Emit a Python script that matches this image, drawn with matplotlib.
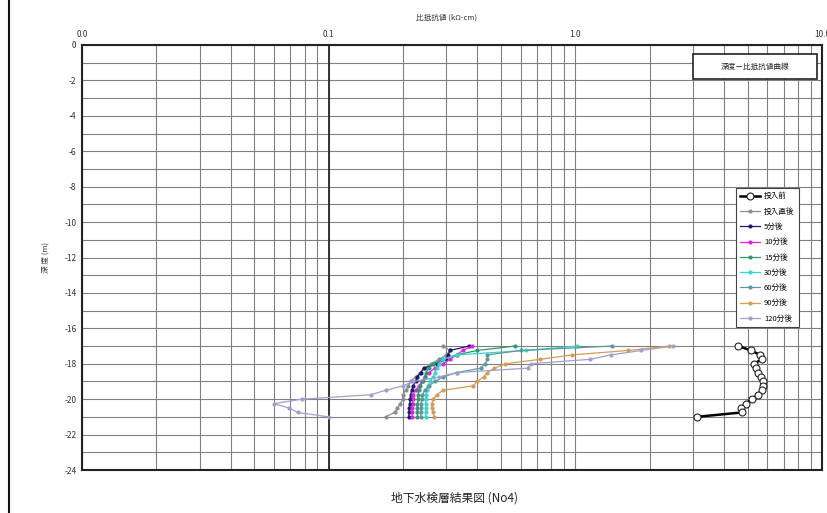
import matplotlib
matplotlib.use('Agg')
import matplotlib.pyplot as plt
from matplotlib.ticker import LogLocator, MultipleLocator, NullFormatter
from matplotlib.lines import Line2D
from matplotlib.patches import Rectangle

plt.rcParams['font.family'] = ['Noto Sans CJK JP', 'DejaVu Sans']

# depths (m), 0.25 m steps
depth = [-17.0, -17.25, -17.5, -17.75, -18.0, -18.25, -18.5, -18.75, -19.0,
         -19.25, -19.5, -19.75, -20.0, -20.25, -20.5, -20.75, -21.0]

# resistivity (kOhm-cm) per series
before = [4.56, 5.16, 5.6, 5.7, 5.3, 5.4, 5.5, 5.64, 5.74,
          5.75, 5.7, 5.5, 5.2, 4.9, 4.7, 4.73, 3.1]
just_after = [0.29, 0.31, 0.30, 0.28, 0.26, 0.245, 0.235, 0.225, 0.215,
              0.21, 0.205, 0.20, 0.20, 0.195, 0.19, 0.185, 0.17]
min5 = [0.37, 0.31, 0.305, 0.298, 0.275, 0.243, 0.236, 0.229, 0.225,
        0.22, 0.217, 0.215, 0.214, 0.213, 0.212, 0.212, 0.211]
min10 = [0.38, 0.35, 0.33, 0.31, 0.29, 0.27, 0.255, 0.245, 0.238,
         0.233, 0.225, 0.22, 0.219, 0.219, 0.218, 0.218, 0.218]
min15 = [0.57, 0.40, 0.33, 0.29, 0.265, 0.254, 0.248, 0.245, 0.242,
         0.235, 0.232, 0.23, 0.23, 0.229, 0.229, 0.229, 0.229]
min30 = [1.02, 0.63, 0.33, 0.29, 0.28, 0.275, 0.27, 0.265, 0.258,
         0.252, 0.25, 0.249, 0.248, 0.248, 0.247, 0.247, 0.247]
min60 = [1.41, 0.60, 0.44, 0.44, 0.43, 0.414, 0.33, 0.29, 0.27,
         0.255, 0.245, 0.24, 0.238, 0.237, 0.236, 0.236, 0.236]
min90 = [2.4, 1.64, 0.97, 0.72, 0.52, 0.47, 0.44, 0.425, 0.40,
         0.385, 0.29, 0.275, 0.265, 0.262, 0.263, 0.265, 0.268]
min120 = [2.5, 1.85, 1.39, 1.15, 0.66, 0.64, 0.33, 0.28, 0.22,
          0.20, 0.17, 0.148, 0.078, 0.060, 0.069, 0.075, 0.10]

labels = ['投入前', '投入直後', '5分後', '10分後', '15分後', '30分後', '60分後', '90分後', '120分後']
colors = ['#000000', '#8c8c8c', '#1a1a70', '#e020e0', '#2e9a6e', '#33d6d0', '#5c9a9a', '#d89a55', '#a0a0cc']
series = [before, just_after, min5, min10, min15, min30, min60, min90, min120]

fig = plt.figure(figsize=(8.28, 5.13), dpi=100)
ax = fig.add_axes([82 / 828, 1 - 470 / 513, 740 / 828, 425 / 513])

ax.set_xscale('log')
ax.set_xlim(0.01, 10)
ax.set_ylim(-24, 0)

# grid
ax.xaxis.set_minor_locator(LogLocator(base=10, subs=range(2, 10)))
ax.xaxis.set_minor_formatter(NullFormatter())
ax.yaxis.set_major_locator(MultipleLocator(2))
ax.yaxis.set_minor_locator(MultipleLocator(1))
ax.grid(True, which='both', color='#808080', lw=0.8)
ax.axvline(0.1, color='#333333', lw=1.4, zorder=1)
ax.set_axisbelow(True)

ax.xaxis.tick_top()
ax.set_xticks([0.01, 0.1, 1, 10])
ax.set_xticklabels(['0.0', '0.1', '1.0', '10.0'])
ax.set_yticks(range(-24, 1, 2))
ax.set_yticklabels([str(v) for v in range(-24, 1, 2)])
ax.tick_params(which='both', length=0, labelsize=6, colors='#333333', pad=4)
for s in ax.spines.values():
    s.set_linewidth(1.5)
    s.set_color('#222222')

for i, (vals, lab, col) in enumerate(zip(series, labels, colors)):
    if i == 0:
        ax.plot(vals, depth, color=col, lw=1.8, marker='o', ms=5,
                mfc='white', mec='#222222', mew=0.8, label=lab, zorder=5)
    else:
        ax.plot(vals, depth, color=col, lw=0.9, marker='o', ms=2,
                label=lab, zorder=3)

leg = ax.legend(loc='upper left', bbox_to_anchor=((732 - 82) / 740, (470 - 184) / 425),
                fontsize=5.5, frameon=True, fancybox=False, framealpha=1,
                edgecolor='#444444', handlelength=2.6, labelspacing=0.95,
                borderpad=0.6, handletextpad=0.5)
leg.get_frame().set_linewidth(0.8)

# title box upper right
ax.add_patch(Rectangle(((693 - 82) / 740, (470 - 79) / 425), 124 / 740, 25 / 425,
                       transform=ax.transAxes, fill=True, facecolor='white',
                       edgecolor='#222222', lw=1.2, zorder=6))
ax.text((755 - 82) / 740, (470 - 66.5) / 425, '深度－比抵抗値曲線', transform=ax.transAxes,
        ha='center', va='center', fontsize=5.5, color='#222222', zorder=7)

fig.text(447 / 828, 1 - 18 / 513, '比抵抗値 (kΩ-cm)', ha='center', va='center',
         fontsize=5.5, color='#333333')
fig.text(46 / 828, 1 - 257 / 513, '深 度 (m)', ha='center', va='center',
         rotation=90, fontsize=5.5, color='#333333')
fig.text(455 / 828, 1 - 498 / 513, '地下水検層結果図 (No4)', ha='center', va='center',
         fontsize=8.5, color='#222222')

# page border on the left
fig.add_artist(Line2D([9 / 828, 9 / 828], [0, 1], color='#111111', lw=1.5,
                      transform=fig.transFigure))

fig.savefig('out.png', dpi=100)
